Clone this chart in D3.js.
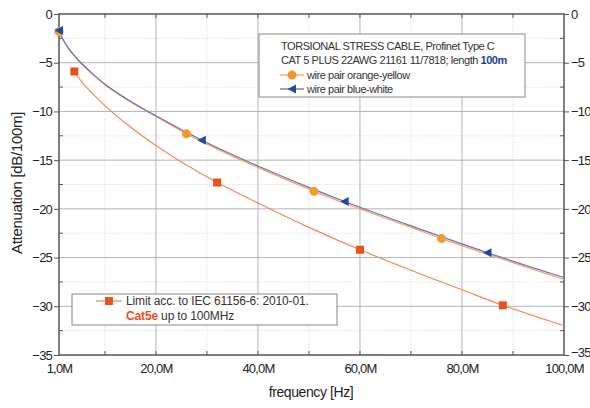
<!DOCTYPE html>
<html><head><meta charset="utf-8">
<script src="https://cdn.jsdelivr.net/npm/d3@7"></script>
<style>
html,body{margin:0;padding:0;background:#fff;}
svg{display:block;font-family:"Liberation Sans",Arial,sans-serif;}
</style></head>
<body>
<svg id="chart" width="590" height="408"></svg>
<script>
// ---- data ----
const xTickValues = [1, 20, 40, 60, 80, 100];
const xTickLabels = ["1,0M", "20,0M", "40,0M", "60,0M", "80,0M", "100,0M"];
const xMinorTicks = [10, 30, 50, 70, 90];
const yTickValues = [0, -5, -10, -15, -20, -25, -30, -35];
const yMinorTicks = [-2.5, -7.5, -12.5, -17.5, -22.5, -27.5, -32.5];

const orangeFreq = [1, 1.5, 2, 3, 4, 5, 7, 10, 15, 20, 26, 33, 40, 51, 60, 70, 76, 85, 100];
const orangeVal  = [-1.8, -2.35, -2.85, -3.65, -4.3, -4.9, -5.9, -7.25, -9.0, -10.5, -12.3, -14.1, -15.75, -18.2, -20.0, -21.9, -23.05, -24.65, -27.25];
const orangeMarkers = [1, 26, 51, 76];

const blueFreq = [1, 1.5, 2, 3, 4, 5, 7, 10, 15, 20, 29, 40, 50, 57, 70, 85, 100];
const blueVal  = [-1.7, -2.3, -2.8, -3.6, -4.25, -4.85, -5.85, -7.2, -8.95, -10.45, -12.95, -15.6, -17.8, -19.25, -21.75, -24.5, -27.05];
const blueMarkers = [1, 29, 57, 85];

const limitFreq = [4, 6, 10, 15, 20, 25, 32, 40, 50, 60, 70, 80, 88, 100];
const limitVal  = [-5.9, -7.3, -9.4, -11.6, -13.5, -15.2, -17.3, -19.4, -21.9, -24.2, -26.3, -28.3, -29.9, -32.0];
const limitMarkers = [4, 32, 60, 88];

const legend1Title1 = "TORSIONAL STRESS CABLE, Profinet Type C";
const legend1Title2a = "CAT 5 PLUS 22AWG 21161 11/7818; length ";
const legend1Title2b = "100m";
const orangeName = "wire pair orange-yellow";
const blueName = "wire pair blue-white";
const limitName1 = "Limit acc. to IEC 61156-6: 2010-01.";
const limitName2a = "Cat5e";
const limitName2b = " up to 100MHz";
const xTitle = "frequency [Hz]";
const yTitle = "Attenuation [dB/100m]";

// ---- styles ----
const C_ORANGE_LINE = "#f7a55a", C_ORANGE_MK = "#f39a2c";
const C_BLUE_LINE = "#6b6fc4", C_BLUE_MK = "#1f48a3";
const C_LIM_LINE = "#f2855a", C_LIM_MK = "#e8511f";

const svg = d3.select("#chart");
const L = 59, R = 564, T = 14, B = 355;
const x = d3.scaleLinear().domain([1, 100]).range([L, R]);
const y = d3.scaleLinear().domain([0, -35]).range([T, B]);

// grid
const g = svg.append("g");
g.selectAll(".vmin").data(xMinorTicks).join("line")
  .attr("x1", d => x(d)).attr("x2", d => x(d)).attr("y1", T).attr("y2", B)
  .attr("stroke", "#d8d8d8").attr("stroke-dasharray", "1,1.5");
g.selectAll(".hmin").data(yMinorTicks).join("line")
  .attr("x1", L).attr("x2", R).attr("y1", d => y(d)).attr("y2", d => y(d))
  .attr("stroke", "#d8d8d8").attr("stroke-dasharray", "1,1.5");
g.selectAll(".vmaj").data(xTickValues.slice(1, -1)).join("line")
  .attr("x1", d => x(d)).attr("x2", d => x(d)).attr("y1", T).attr("y2", B)
  .attr("stroke", "#b4b4b4").attr("stroke-width", 1);
g.selectAll(".hmaj").data(yTickValues.slice(1, -1)).join("line")
  .attr("x1", L).attr("x2", R).attr("y1", d => y(d)).attr("y2", d => y(d))
  .attr("stroke", "#b4b4b4").attr("stroke-width", 1);

// axes via d3
const axisFont = "13px";
const fmtX = d => xTickLabels[xTickValues.indexOf(d)];
const fmtY = d => d === 0 ? "0" : d3.format("d")(d);
const bottom = svg.append("g").attr("transform", `translate(0,${B})`)
  .call(d3.axisBottom(x).tickValues(xTickValues).tickFormat(fmtX).tickSize(0).tickPadding(9));
const left = svg.append("g").attr("transform", `translate(${L},0)`)
  .call(d3.axisLeft(y).tickValues(yTickValues).tickFormat(fmtY).tickSize(5).tickPadding(2));
const right = svg.append("g").attr("transform", `translate(${R},0)`)
  .call(d3.axisRight(y).tickValues(yTickValues).tickFormat(fmtY).tickSize(5).tickPadding(2));
[bottom, left, right].forEach(a => {
  a.select(".domain").remove();
  a.selectAll("line").attr("stroke", "#555");
  a.selectAll("text").attr("fill", "#222").style("font-size", axisFont).style("letter-spacing", "-0.8px");
});
// lift the lowest right-hand label slightly so it clears the last x label
right.selectAll("text").filter(d => d === -35).attr("dy", "0.1em");
// minor inward ticks
const mt = svg.append("g").attr("stroke", "#555");
mt.selectAll(".b").data(xMinorTicks.concat(xTickValues.slice(1,-1))).join("line")
  .attr("x1", d => x(d)).attr("x2", d => x(d)).attr("y1", B).attr("y2", B - 4);
mt.selectAll(".t").data(xMinorTicks.concat(xTickValues.slice(1,-1))).join("line")
  .attr("x1", d => x(d)).attr("x2", d => x(d)).attr("y1", T).attr("y2", T + 4);
mt.selectAll(".l").data(yMinorTicks).join("line")
  .attr("x1", L).attr("x2", L + 4).attr("y1", d => y(d)).attr("y2", d => y(d));
mt.selectAll(".r").data(yMinorTicks).join("line")
  .attr("x1", R).attr("x2", R - 4).attr("y1", d => y(d)).attr("y2", d => y(d));

// frame
svg.append("rect").attr("x", L).attr("y", T).attr("width", R - L).attr("height", B - T)
  .attr("fill", "none").attr("stroke", "#555").attr("stroke-width", 1.5);

// lines
const line = d3.line().x(d => x(d[0])).y(d => y(d[1])).curve(d3.curveCatmullRom.alpha(0.5));
const zip = (a, b) => a.map((f, i) => [f, b[i]]);
const limitData = zip(limitFreq, limitVal);
const orangeData = zip(orangeFreq, orangeVal);
const blueData = zip(blueFreq, blueVal);

svg.append("path").datum(limitData).attr("d", line).attr("fill", "none").attr("stroke", C_LIM_LINE).attr("stroke-width", 1.2);
svg.append("path").datum(orangeData).attr("d", line).attr("fill", "none").attr("stroke", C_ORANGE_LINE).attr("stroke-width", 1.3);
svg.append("path").datum(blueData).attr("d", line).attr("fill", "none").attr("stroke", C_BLUE_LINE).attr("stroke-width", 1.2);

// markers
const sq = d3.symbol().type(d3.symbolSquare).size(64);
const circ = d3.symbol().type(d3.symbolCircle).size(64);
const tri = "M-4.5,0L4,-4.5L4,4.5Z";
svg.selectAll(".lm").data(limitData.filter(d => limitMarkers.includes(d[0]))).join("path")
  .attr("d", sq).attr("transform", d => `translate(${x(d[0])},${y(d[1])})`).attr("fill", C_LIM_MK);
svg.selectAll(".om").data(orangeData.filter(d => orangeMarkers.includes(d[0]))).join("path")
  .attr("d", circ).attr("transform", d => `translate(${x(d[0])},${y(d[1])})`).attr("fill", C_ORANGE_MK);
svg.selectAll(".bm").data(blueData.filter(d => blueMarkers.includes(d[0]))).join("path")
  .attr("d", tri).attr("transform", d => `translate(${x(d[0])},${y(d[1])})`).attr("fill", C_BLUE_MK);

// legend 1
const lg = svg.append("g");
lg.append("rect").attr("x", 259).attr("y", 34).attr("width", 266).attr("height", 63)
  .attr("fill", "#fff").attr("stroke", "#888").attr("stroke-width", 1);
const lt = (xx, yy) => lg.append("text").attr("x", xx).attr("y", yy).attr("fill", "#333")
  .style("font-size", "11px").style("letter-spacing", "-0.45px");
lt(281, 50).text(legend1Title1);
const t2 = lt(281, 64);
t2.append("tspan").text(legend1Title2a);
t2.append("tspan").attr("fill", "#1f3fa0").attr("font-weight", "bold").text(legend1Title2b);
lg.append("line").attr("x1", 280).attr("x2", 304).attr("y1", 75).attr("y2", 75).attr("stroke", C_ORANGE_LINE).attr("stroke-width", 1.3);
lg.append("path").attr("d", circ).attr("transform", "translate(292,75)").attr("fill", C_ORANGE_MK);
lt(307, 79).text(orangeName);
lg.append("line").attr("x1", 280).attr("x2", 304).attr("y1", 89).attr("y2", 89).attr("stroke", C_BLUE_LINE).attr("stroke-width", 1.3);
lg.append("path").attr("d", tri).attr("transform", "translate(292,89)").attr("fill", C_BLUE_MK);
lt(307, 93).text(blueName);

// legend 2
const lg2 = svg.append("g");
lg2.append("rect").attr("x", 72).attr("y", 294).attr("width", 265).attr("height", 31)
  .attr("fill", "#fff").attr("stroke", "#888").attr("stroke-width", 1);
lg2.append("line").attr("x1", 96).attr("x2", 122).attr("y1", 301).attr("y2", 301).attr("stroke", C_LIM_LINE).attr("stroke-width", 1.2);
lg2.append("path").attr("d", sq).attr("transform", "translate(109,301)").attr("fill", C_LIM_MK);
lg2.append("text").attr("x", 126).attr("y", 305).attr("fill", "#333").style("font-size", "12px").style("letter-spacing", "-0.15px").text(limitName1);
const t3 = lg2.append("text").attr("x", 126).attr("y", 320).attr("fill", "#333").style("font-size", "12px").style("letter-spacing", "-0.15px");
t3.append("tspan").attr("fill", C_LIM_MK).attr("font-weight", "bold").text(limitName2a);
t3.append("tspan").text(limitName2b);

// axis titles
svg.append("text").attr("x", 311).attr("y", 397).attr("text-anchor", "middle").attr("fill", "#222")
  .style("font-size", "14px").style("letter-spacing", "-0.4px").text(xTitle);
svg.append("text").attr("transform", "translate(22,183) rotate(-90)").attr("text-anchor", "middle").attr("fill", "#222")
  .style("font-size", "15px").style("letter-spacing", "-0.3px").text(yTitle);
</script>
</body></html>
